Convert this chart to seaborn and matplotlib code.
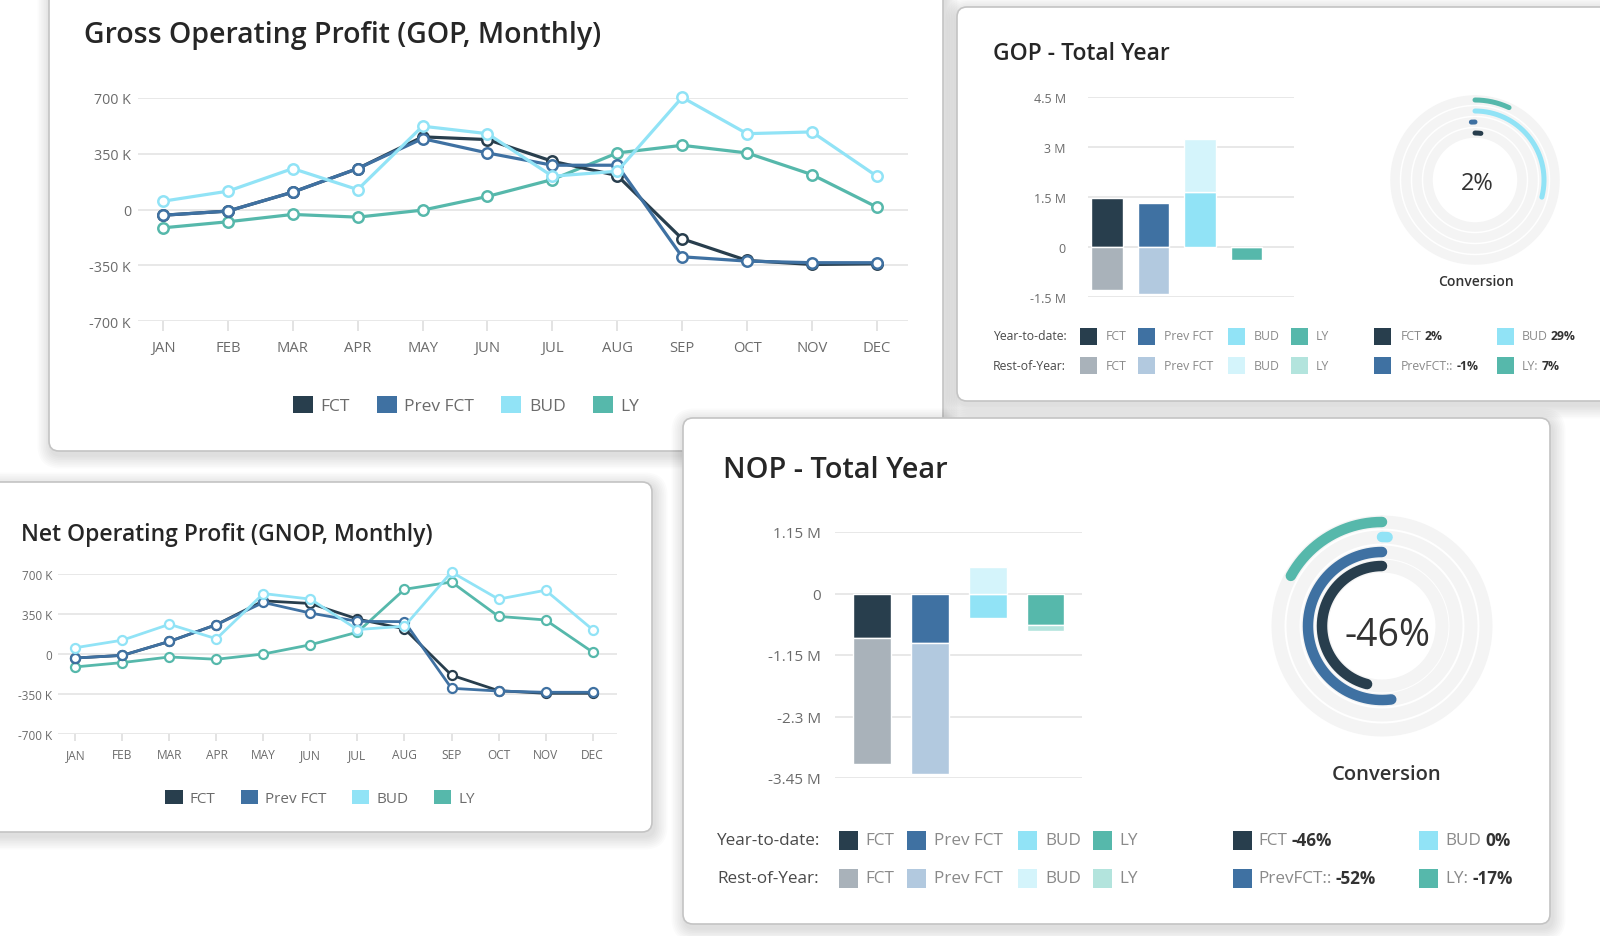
import matplotlib
matplotlib.use('Agg')
import numpy as np
import matplotlib.pyplot as plt
import matplotlib.transforms as mtransforms
from matplotlib.patches import FancyBboxPatch, Rectangle, Patch
import seaborn as sns

sns.set_theme(style="white")
plt.rcParams['font.family'] = ['Open Sans', 'DejaVu Sans']

W, H = 1600, 937

# ---------------- data ----------------
MONTHS = ["JAN", "FEB", "MAR", "APR", "MAY", "JUN", "JUL", "AUG", "SEP", "OCT", "NOV", "DEC"]
SERIES = ["FCT", "Prev FCT", "BUD", "LY"]

# GOP monthly (K)
gop_fct = [-36, -10, 109, 257, 456, 439, 303, 213, -184, -320, -345, -341]
gop_prev = [-36, -10, 109, 257, 445, 355, 278, 278, -297, -324, -334, -334]
gop_bud = [52, 115, 257, 125, 523, 476, 209, 240, 704, 476, 487, 209]
gop_ly = [-115, -77, -31, -48, -4, 82, 188, 355, 403, 355, 219, 15]

# NOP monthly (K)
nop_fct = [-35, -12, 110, 257, 465, 442, 306, 220, -185, -321, -344, -344]
nop_prev = [-35, -12, 110, 257, 451, 358, 286, 283, -300, -324, -335, -335]
nop_bud = [55, 121, 260, 133, 529, 480, 214, 243, 717, 480, 558, 214]
nop_ly = [-113, -75, -26, -46, 0, 81, 191, 566, 630, 329, 298, 17]

MONTHLY_TICKS = [700, 350, 0, -350, -700]
MONTHLY_LABELS = ["700 K", "350 K", "0", "-350 K", "-700 K"]

# total year (M): year-to-date and rest-of-year parts
gop_ytd = [1.48, 1.33, 1.65, -0.38]
gop_roy = [-1.28, -1.40, 1.60, 0.0]
GOP_TICKS = [4.5, 3, 1.5, 0, -1.5]
GOP_TICK_LABELS = ["4.5 M", "3 M", "1.5 M", "0", "-1.5 M"]

nop_ytd = [-0.84, -0.92, -0.46, -0.58]
nop_roy = [-2.35, -2.45, 0.50, -0.13]
NOP_TICKS = [1.15, 0, -1.15, -2.3, -3.45]
NOP_TICK_LABELS = ["1.15 M", "0", "-1.15 M", "-2.3 M", "-3.45 M"]

# conversion gauges (%)
gop_conv = {"FCT": 2, "Prev FCT": -1, "BUD": 29, "LY": 7}
nop_conv = {"FCT": -46, "Prev FCT": -52, "BUD": 0, "LY": -17}
GOP_CONV_TEXT = "2%"
NOP_CONV_TEXT = "-46%"
RIGHT_LABELS = ["FCT", "BUD", "PrevFCT::", "LY:"]
RIGHT_KEYS = ["FCT", "BUD", "Prev FCT", "LY"]

COLORS = {"FCT": "#283e4d", "Prev FCT": "#3f71a2", "BUD": "#91e3f6", "LY": "#56b8ab"}
LIGHT = {"FCT": "#a9b2ba", "Prev FCT": "#b2c9df", "BUD": "#d4f4fb", "LY": "#b3e4dd"}

TITLE_C = "#262626"
TICK_C = "#6b6b6b"
GRID_C = "#e6e6e6"
MIN_SWEEP = 1.0  # percent, so that a 0% value still shows a dot

fig = plt.figure(figsize=(16, 9.37), dpi=100)
fig.patch.set_facecolor("white")
PIX = mtransforms.Affine2D().scale(1 / W, 1 / H) + fig.transFigure


def axes_px(x0, y0, x1, y1, **kw):
    return fig.add_axes([x0 / W, 1 - y1 / H, (x1 - x0) / W, (y1 - y0) / H], **kw)


def text_px(x, y, s, **kw):
    return fig.text(x / W, 1 - y / H, s, **kw)


def card(x0, y0, x1, y1, z):
    # soft drop shadow then the white card
    for i in range(8, 0, -1):
        fig.add_artist(FancyBboxPatch(
            (x0 + 2, H - y1 - 4), x1 - x0, y1 - y0,
            boxstyle=f"round,pad={i * 1.7},rounding_size={10 + i * 1.7}",
            transform=PIX, fc="black", ec="none", alpha=0.017, zorder=z))
    fig.add_artist(FancyBboxPatch(
        (x0, H - y1), x1 - x0, y1 - y0, boxstyle="round,pad=0,rounding_size=10",
        transform=PIX, fc="white", ec="#c4c4c4", lw=1.2, zorder=z))


def line_panel(ax, values, fs_tick, fs_month, lw, ms, mew, tick_len, ypad, xpad, xlim):
    x = np.arange(12)
    for name in ["LY", "FCT", "Prev FCT", "BUD"]:
        sns.lineplot(x=x, y=values[name], ax=ax, color=COLORS[name], lw=lw,
                     marker="o", ms=ms, markerfacecolor="white",
                     markeredgecolor=COLORS[name], markeredgewidth=mew, clip_on=False)
    ax.set_xlim(*xlim)
    ax.set_ylim(-700, 700)
    ax.set_yticks(MONTHLY_TICKS, MONTHLY_LABELS)
    ax.set_xticks(x, MONTHS)
    ax.set_xlabel("")
    ax.set_ylabel("")
    ax.grid(axis="y", color=GRID_C, lw=1.3)
    ax.set_axisbelow(True)
    sns.despine(ax=ax, left=True, bottom=True)
    ax.tick_params(axis="y", left=False, length=0, pad=ypad, labelsize=fs_tick, labelcolor=TICK_C)
    ax.tick_params(axis="x", bottom=True, length=tick_len, color="#dedede", width=1.2,
                   direction="out", pad=xpad, labelsize=fs_month, labelcolor=TICK_C)
    ax.set_facecolor("none")


def series_legend(ax, cx, cy, fs, spacing):
    handles = [Patch(fc=COLORS[n], ec="none", label=n) for n in SERIES]
    ax.legend(handles=handles, loc="center", bbox_to_anchor=(cx / W, 1 - cy / H),
              bbox_transform=fig.transFigure, ncol=4, frameon=False, fontsize=fs,
              handlelength=1.15, handleheight=1.1, handletextpad=0.45,
              columnspacing=spacing, labelcolor=TICK_C, borderaxespad=0)


def bar_panel(ax, ytd, roy, ticks, labels, xlim, width, fs, pad):
    ytd = np.array(ytd)
    roy = np.array(roy)
    sns.barplot(x=SERIES, y=ytd, hue=SERIES, palette=COLORS, width=width,
                saturation=1, legend=False, ax=ax, zorder=3)
    roy_bottom = np.where(np.sign(roy) == np.sign(ytd), ytd, 0)
    ax.bar(np.arange(4), roy, bottom=roy_bottom, width=width,
           color=[LIGHT[s] for s in SERIES], zorder=3)
    ax.set_xlim(*xlim)
    ax.set_ylim(min(ticks), max(ticks))
    ax.set_yticks(ticks, labels)
    ax.set_xticks([])
    ax.set_xlabel("")
    ax.set_ylabel("")
    ax.grid(axis="y", color=GRID_C, lw=1.3)
    ax.set_axisbelow(True)
    ax.tick_params(axis="y", left=False, length=0, pad=pad, labelsize=fs, labelcolor=TICK_C)
    ax.set_facecolor("none")
    for sp in ax.spines.values():
        sp.set_visible(False)


def gauge(cx, cy, R, conv, radii, lw_px, bg_px, z):
    ax = axes_px(cx - R, cy - R, cx + R, cy + R, projection="polar")
    ax.set_zorder(z)
    ax.set_theta_zero_location("N")
    ax.set_theta_direction(-1)
    ax.set_ylim(0, R)
    full = np.linspace(0, 2 * np.pi, 361)
    for name in ["LY", "BUD", "Prev FCT", "FCT"]:
        r = radii[name]
        ax.plot(full, np.full_like(full, r), color="#f4f4f4", lw=bg_px * 0.72, zorder=1)
        p = conv[name]
        sweep = p if p != 0 else MIN_SWEEP
        th = np.linspace(0, sweep / 100 * 2 * np.pi, 200)
        ax.plot(th, np.full_like(th, r), color=COLORS[name], lw=lw_px * 0.72,
                solid_capstyle="round", zorder=2)
    ax.set_axis_off()
    return ax


def total_legend(label_x, rows_y, sq_x, txt_x, rsq_x, rtxt_x, conv_txt, fs, sq, z):
    renderer = fig.canvas.get_renderer()
    for row, (lab, palette) in enumerate([("Year-to-date:", COLORS), ("Rest-of-Year:", LIGHT)]):
        y = rows_y[row]
        text_px(label_x, y, lab, fontsize=fs, color="#4a4a4a", va="center", ha="left", zorder=z)
        for i, name in enumerate(SERIES):
            fig.add_artist(Rectangle((sq_x[i], H - y - sq / 2), sq, sq, transform=PIX,
                                     fc=palette[name], ec="none", zorder=z))
            text_px(txt_x[i], y, name, fontsize=fs, color="#8a8a8a", va="center", zorder=z)
    for k, (lab, key) in enumerate(zip(RIGHT_LABELS, RIGHT_KEYS)):
        row, col = k // 2, k % 2
        y = rows_y[row]
        fig.add_artist(Rectangle((rsq_x[col], H - y - sq / 2), sq, sq, transform=PIX,
                                 fc=COLORS[key], ec="none", zorder=z))
        t = text_px(rtxt_x[col], y, lab, fontsize=fs, color="#8a8a8a", va="center", zorder=z)
        bb = t.get_window_extent(renderer=renderer)
        fig.text(bb.x1 / W + fs * 0.35 / W, 1 - y / H, conv_txt[key], fontsize=fs,
                 color="#333333", weight="bold", va="center", zorder=z)


# ---------------- card 1: GOP monthly ----------------
card(49, -20, 943, 452, 1)
text_px(84, 35, "Gross Operating Profit (GOP, Monthly)", fontsize=20.5, color=TITLE_C,
        weight="semibold", va="center", zorder=2)
ax1 = axes_px(138, 99, 908, 322)
ax1.set_zorder(2)
line_panel(ax1, {"FCT": gop_fct, "Prev FCT": gop_prev, "BUD": gop_bud, "LY": gop_ly},
           fs_tick=10.3, fs_month=10.6, lw=2.3, ms=7.5, mew=1.8, tick_len=7, ypad=5, xpad=7,
           xlim=(-0.385, 11.48))
series_legend(ax1, 466, 406, 12.5, 1.55)

# ---------------- card 2: GOP total year ----------------
card(957, 8, 1660, 402, 3)
text_px(993, 54, "GOP - Total Year", fontsize=16.5, color=TITLE_C, weight="semibold",
        va="center", zorder=4)
ax2 = axes_px(1088, 98, 1294, 298)
ax2.set_zorder(4)
bar_panel(ax2, gop_ytd, gop_roy, GOP_TICKS, GOP_TICK_LABELS, (-0.41, 4.02), 0.68, 9, 16)
gauge(1475, 181, 92, gop_conv, {"LY": 80, "BUD": 69, "Prev FCT": 58, "FCT": 47}, 5, 9.5, 4)
text_px(1477, 184, GOP_CONV_TEXT, fontsize=17, color="#333333", ha="center", va="center", zorder=5)
text_px(1476, 282, "Conversion", fontsize=10, color="#333333", weight="semibold",
        ha="center", va="center", zorder=5)
total_legend(993, (337, 366), (1080, 1138, 1228, 1291), (1106, 1164, 1254, 1316),
             (1374, 1497), (1401, 1522),
             {"FCT": "2%", "BUD": "29%", "Prev FCT": "-1%", "LY": "7%"}, 8.8, 17, 5)

# ---------------- card 3: NOP monthly ----------------
card(-20, 483, 652, 833, 5)
text_px(21, 535, "Net Operating Profit (GNOP, Monthly)", fontsize=16.5, color=TITLE_C,
        weight="semibold", va="center", zorder=6)
ax3 = axes_px(58, 575, 617, 735)
ax3.set_zorder(6)
line_panel(ax3, {"FCT": nop_fct, "Prev FCT": nop_prev, "BUD": nop_bud, "LY": nop_ly},
           fs_tick=8.5, fs_month=8.6, lw=2.0, ms=6.5, mew=1.6, tick_len=5, ypad=4, xpad=5,
           xlim=(-0.37, 11.52))
series_legend(ax3, 320, 799, 11, 1.65)

# ---------------- card 4: NOP total year ----------------
card(683, 419, 1550, 925, 7)
text_px(723, 470, "NOP - Total Year", fontsize=20.8, color=TITLE_C, weight="semibold",
        va="center", zorder=8)
ax4 = axes_px(835, 533, 1082, 779)
ax4.set_zorder(8)
bar_panel(ax4, nop_ytd, nop_roy, NOP_TICKS, NOP_TICK_LABELS, (-0.64, 3.63), 0.65, 11, 10)
gauge(1382, 627, 135, nop_conv, {"LY": 104, "BUD": 89, "Prev FCT": 74, "FCT": 60}, 10.5, 13, 8)
text_px(1387, 636, NOP_CONV_TEXT, fontsize=27, color="#333333", ha="center", va="center", zorder=9)
text_px(1387, 775, "Conversion", fontsize=14.5, color="#333333", weight="semibold",
        ha="center", va="center", zorder=9)
total_legend(717, (841, 879), (839, 907, 1018, 1093), (865, 934, 1045, 1119),
             (1233, 1419), (1258, 1445),
             {"FCT": "-46%", "BUD": "0%", "Prev FCT": "-52%", "LY": "-17%"}, 12.3, 19, 9)

fig.savefig("out.png", dpi=100, facecolor="white")
